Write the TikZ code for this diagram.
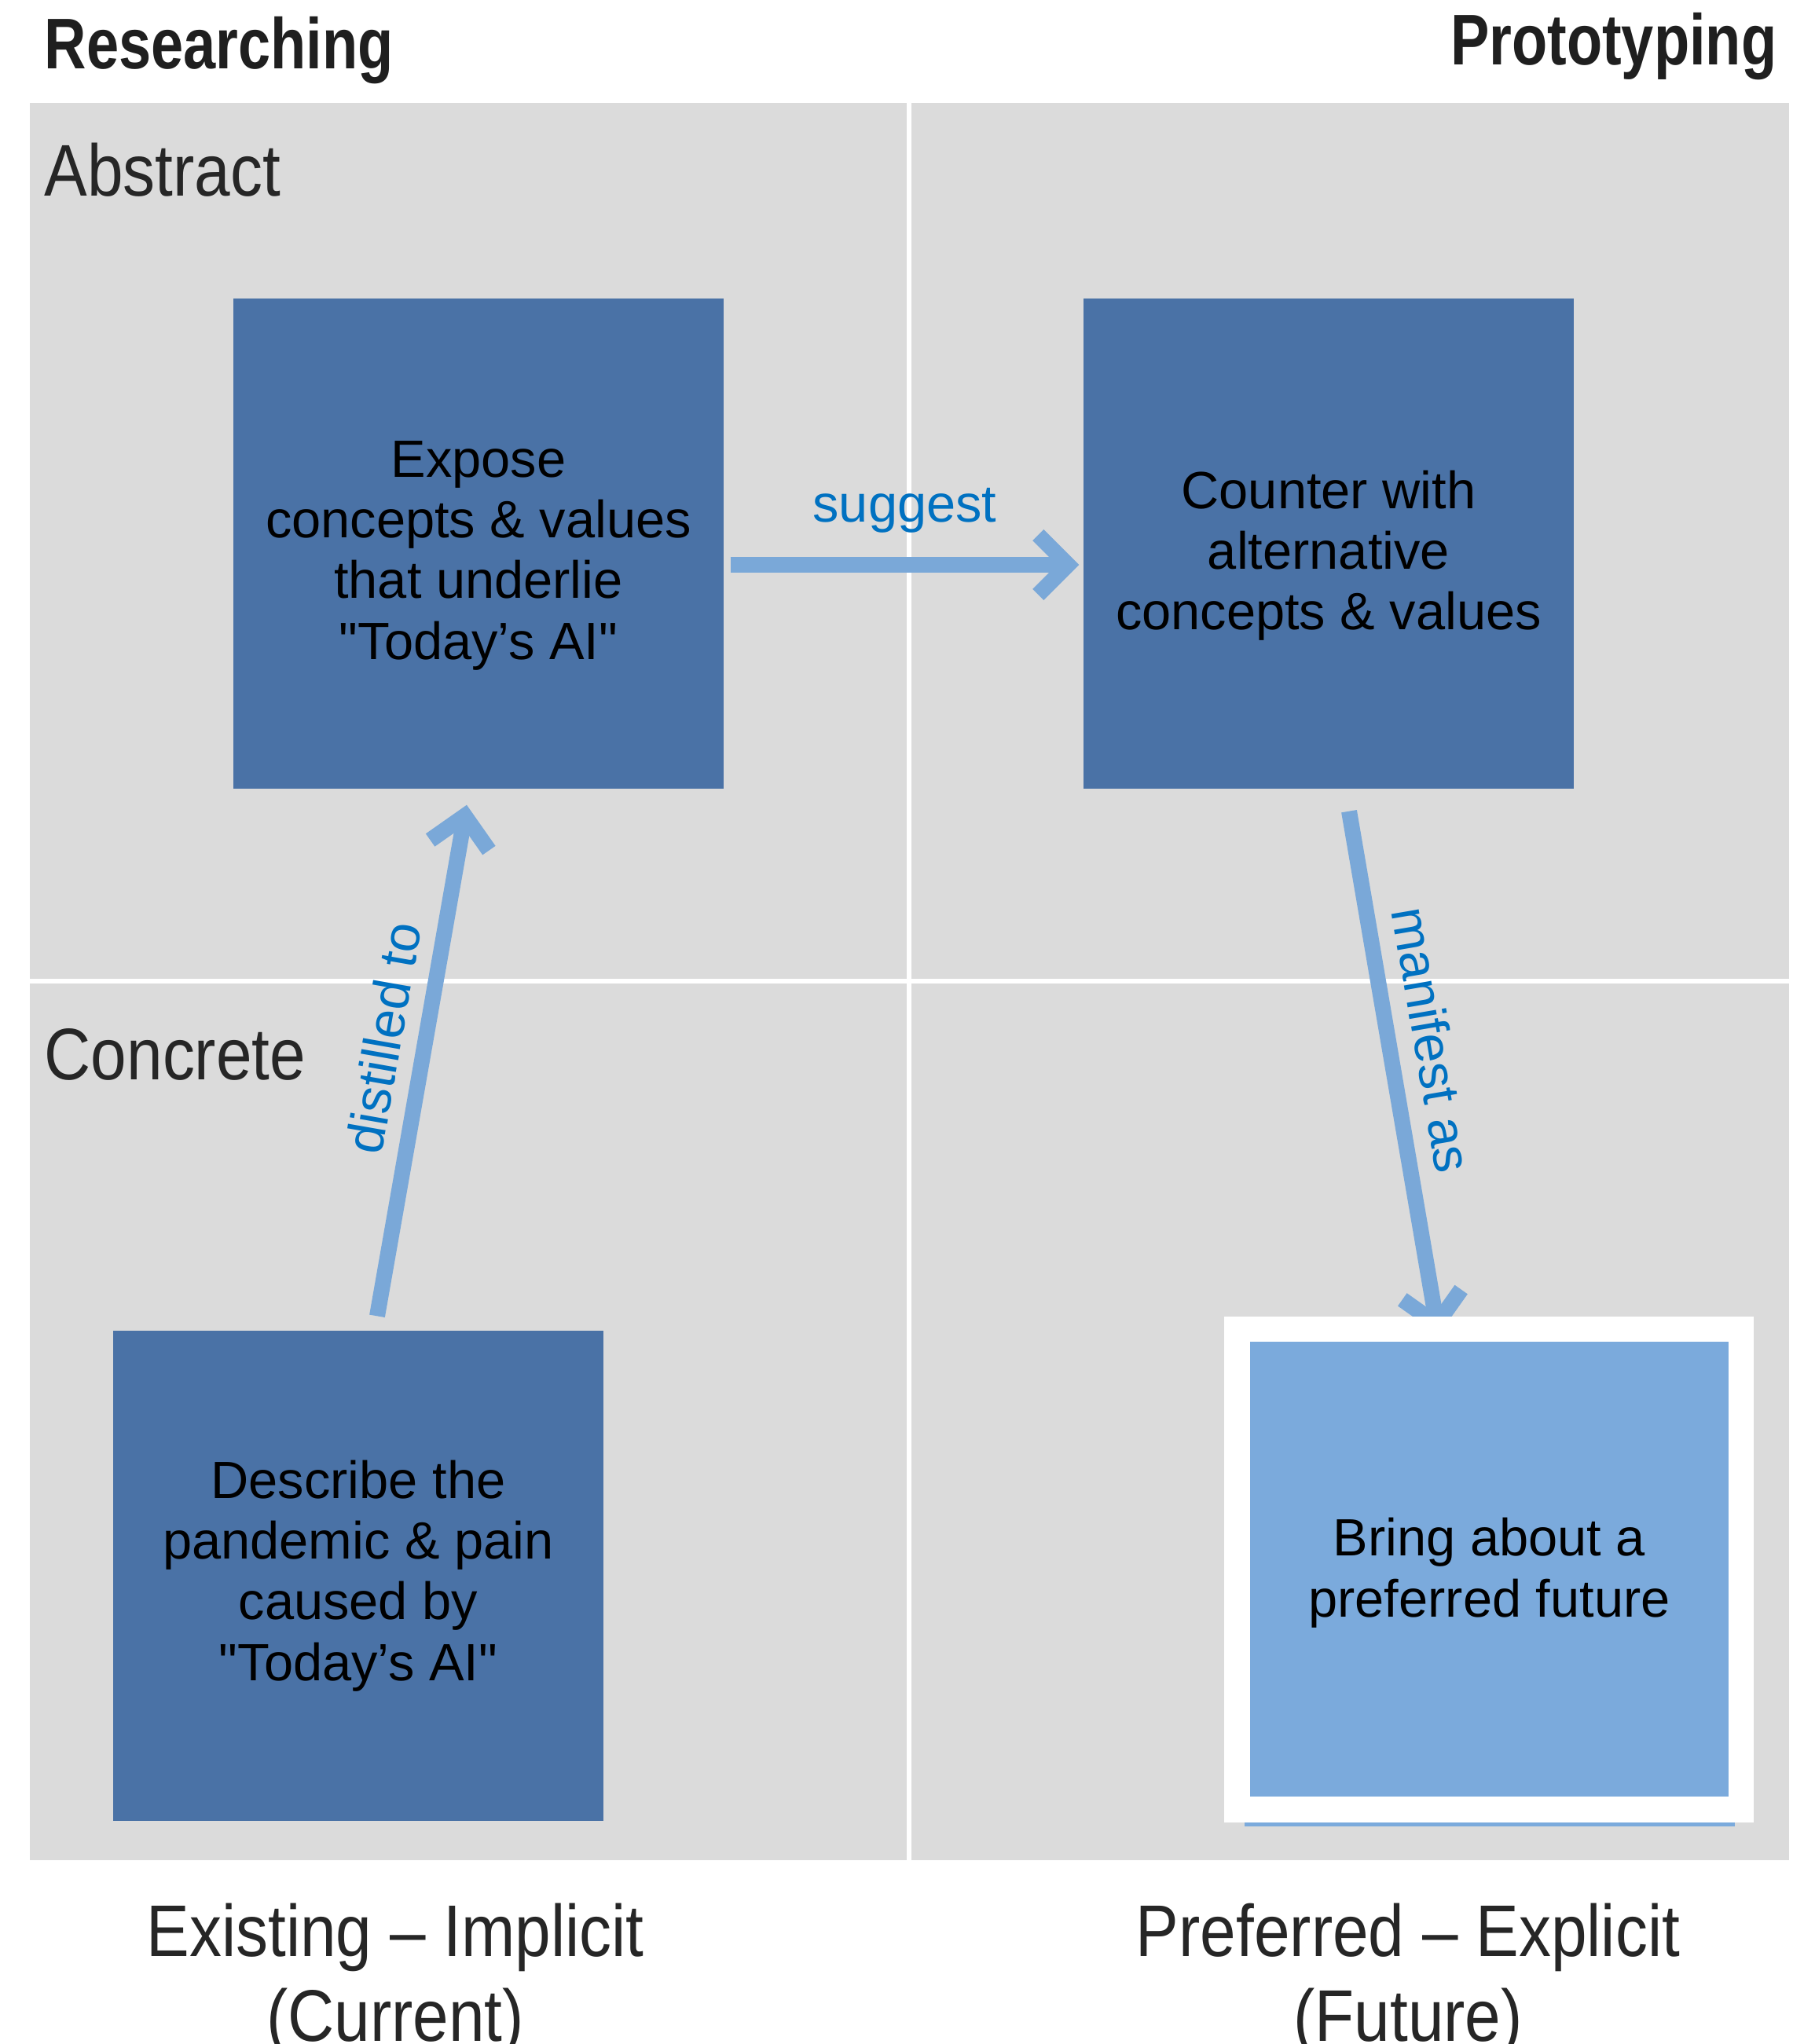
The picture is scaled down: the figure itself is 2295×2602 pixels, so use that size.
\documentclass[tikz,border=0pt]{standalone}
\usepackage{fontspec}
\setmainfont{Liberation Sans}[Ligatures=TeXOff]
\newfontfamily\headfont[FakeStretch=0.81]{Liberation Sans}
\newfontfamily\axisfont[FakeStretch=0.88]{Liberation Sans}
\usetikzlibrary{arrows.meta}
\usetikzlibrary{calc}

\definecolor{panelgrey}{HTML}{DBDBDB}
\definecolor{boxblue}{HTML}{4A72A6}
\definecolor{paleblue}{HTML}{7BAADC}
\definecolor{flowblue}{HTML}{7AA8D8}
\definecolor{verbblue}{HTML}{0071C1}

\pgfdeclarelayer{background}
\pgfdeclarelayer{flows}
\pgfsetlayers{background,flows,main}

\tikzset{
  stepbox/.style={rectangle, fill=boxblue, inner sep=0pt, minimum size=62.4mm, align=center, font=\fontsize{19}{22}\selectfont},
  flow/.style={draw=flowblue, line width=2mm, -{Straight Barb[length=10.8pt, width=21.6pt, line cap=butt, line join=miter]}},
  verb/.style={text=verbblue, inner sep=0pt, font=\fontsize{19}{22}\selectfont},
  headlbl/.style={inner sep=0pt, text=black!88, font=\headfont\bfseries\fontsize{26}{30}\selectfont},
  axislbl/.style={inner sep=0pt, text=black!85, align=center, font=\axisfont\fontsize{26.5}{30.7}\selectfont}
}

\begin{document}
\begin{tikzpicture}[x=0.1mm, y=-0.1mm]
      \useasboundingbox (0,0) rectangle (2295,2602);

      \begin{pgfonlayer}{background}
        \fill[panelgrey] (38,131) rectangle (2277,2368);
        \draw[white, line width=0.6mm] (1157,131) -- (1157,2368);
        \draw[white, line width=0.6mm] (38,1249) -- (2277,1249);
      \end{pgfonlayer}

      \node[headlbl, anchor=base west] (research) at (56,88) {Researching};
      \node[headlbl, anchor=base east] (proto) at (2262,83) {Prototyping};
      \node[axislbl, anchor=base west] (abstract) at (56,250) {Abstract};
      \node[axislbl, anchor=base west] (concrete) at (56,1374) {Concrete};
      \node[axislbl, anchor=base] (existing) at (503,2598) {Existing – Implicit\\(Current)};
      \node[axislbl, anchor=base] (preferred) at (1792,2598) {Preferred – Explicit\\(Future)};

      \node[stepbox, text height=87.6pt] (expose) at (609,692) {Expose\\concepts \& values\\that underlie\\"Today’s AI"};
      \node[stepbox, text height=66.4pt] (counter) at (1691,692) {Counter with\\alternative\\concepts \& values};
      \node[stepbox] (describe) at (456,2006) {Describe the\\pandemic \& pain\\caused by\\"Today’s AI"};

      \node[fill=white, inner sep=0pt, minimum width=67.4mm, minimum height=64.4mm] (frame) at (1895,1998) {};
      \node[stepbox, text height=38.4pt, fill=paleblue, minimum width=60.9mm, minimum height=57.9mm] (future) at (1895.5,1997.5) {Bring about a\\preferred future};
      \fill[paleblue] (1584,2320) rectangle (2208,2324.5);

      \begin{pgfonlayer}{flows}
        \draw[flow] ($(expose.east)+(8,27)$) -- node[verb, above=8.8pt] {suggest} ($(counter.west)+(-5,27)$);
        \draw[flow] ($(describe.north)+(24,-18)$) -- node[verb, sloped, above=5.4pt, pos=0.53] {distilled to} ($(expose.south)+(-15,20)$);
        \draw[flow] ($(counter.south)+(26,28)$) -- node[verb, sloped, above=6pt, pos=0.45] {manifest as} ($(frame.north)+(-64,24)$);
      \end{pgfonlayer}
    \end{tikzpicture}
\end{document}
